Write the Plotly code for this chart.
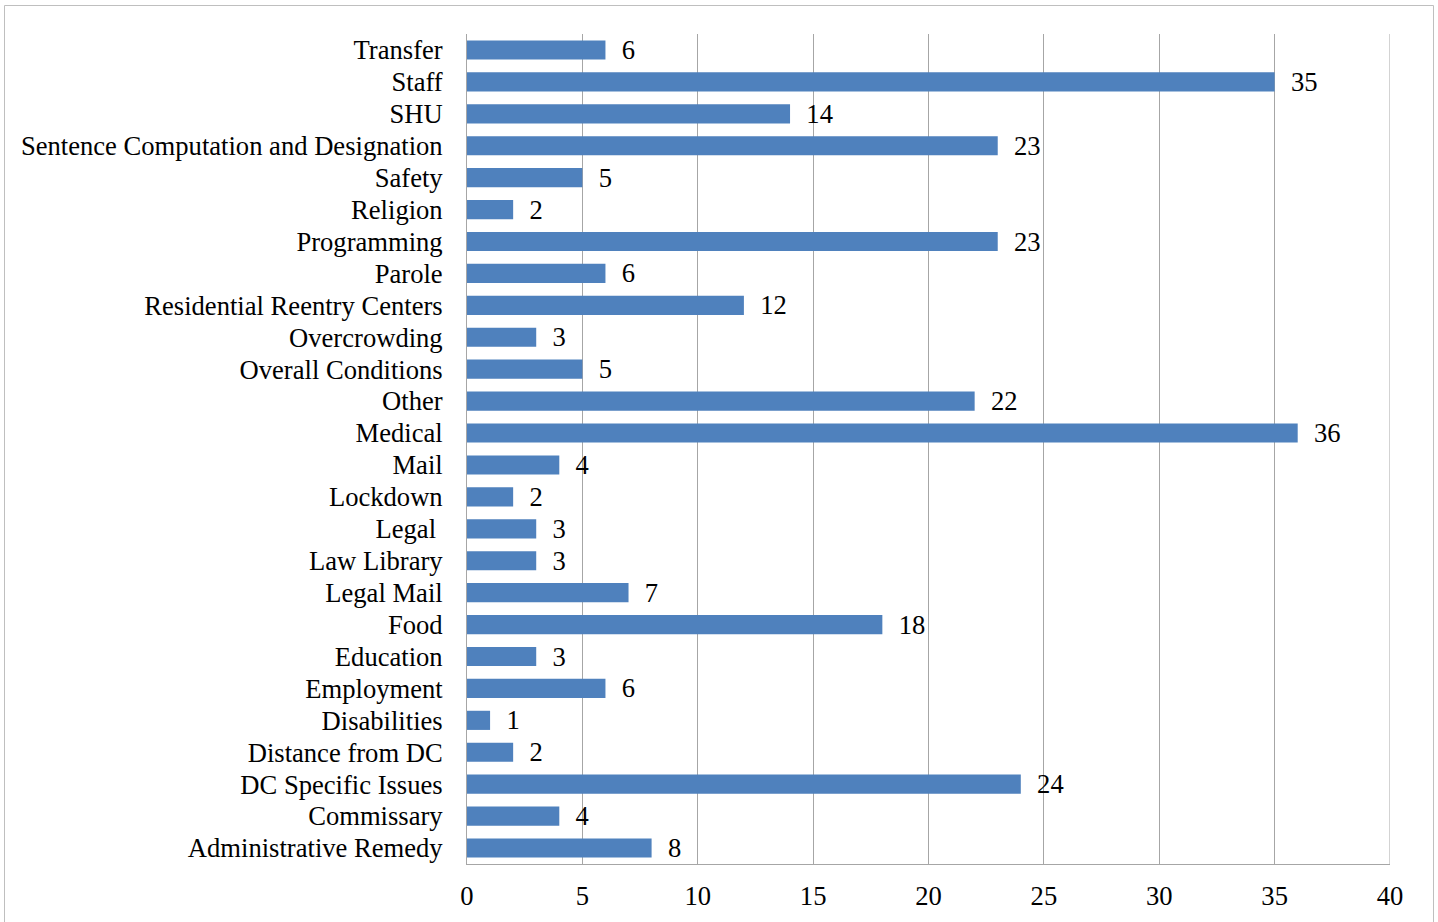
import plotly.graph_objects as go

categories = ["Transfer", "Staff", "SHU", "Sentence Computation and Designation", "Safety",
              "Religion", "Programming", "Parole", "Residential Reentry Centers", "Overcrowding",
              "Overall Conditions", "Other", "Medical", "Mail", "Lockdown", "Legal\u00a0",
              "Law Library", "Legal Mail", "Food", "Education", "Employment", "Disabilities",
              "Distance from DC", "DC Specific Issues", "Commissary", "Administrative Remedy"]
values = [6, 35, 14, 23, 5, 2, 23, 6, 12, 3, 5, 22, 36, 4, 2, 3, 3, 7, 18, 3, 6, 1, 2, 24, 4, 8]
x_ticks = [0, 5, 10, 15, 20, 25, 30, 35, 40]

FONT = "Liberation Serif, Times New Roman, serif"
FS = 26.6
W, H = 1438, 922
ML, MR, MT, MB = 467, 48, 34, 58
pw, ph = W - ML - MR, H - MT - MB
GRID = "#A6A6A6"

fig = go.Figure(go.Bar(
    x=values, y=categories, orientation="h",
    marker=dict(color="#4F81BD", line=dict(width=0)),
    width=0.6,
    text=["\u00a0\u00a0" + str(v) for v in values],
    textposition="outside",
    constraintext="none",
    textfont=dict(family=FONT, size=FS, color="black"),
    cliponaxis=False,
))

def px_x(p):
    return (p - ML) / pw

def px_y(p):
    return (H - MB - p) / ph

fig.add_shape(type="rect", xref="paper", yref="paper",
              x0=px_x(4.5), x1=px_x(1433.5), y0=px_y(930), y1=px_y(5.5),
              line=dict(color="#BFBFBF", width=1), layer="below")
# last gridline at the right edge of the plot area
fig.add_shape(type="line", xref="x", yref="paper",
              x0=x_ticks[-1], x1=x_ticks[-1], y0=0, y1=1,
              line=dict(color=GRID, width=1), layer="below")

fig.update_layout(
    width=W, height=H,
    margin=dict(l=ML, r=MR, t=MT, b=MB, autoexpand=False),
    plot_bgcolor="white", paper_bgcolor="white",
    font=dict(family=FONT, size=FS, color="black"),
    showlegend=False,
    xaxis=dict(range=[x_ticks[0], x_ticks[-1]], tickvals=x_ticks, showgrid=True, gridcolor=GRID,
               gridwidth=1, zeroline=False, showline=True, linecolor=GRID,
               ticks="", ticklabelstandoff=8, fixedrange=True, automargin=False),
    yaxis=dict(autorange="reversed", showline=True, linecolor=GRID, ticks="",
               tickmode="array", tickvals=categories, ticktext=categories,
               showgrid=False, ticklabelstandoff=18, fixedrange=True, automargin=False),
)
fig.write_html("out.html")
